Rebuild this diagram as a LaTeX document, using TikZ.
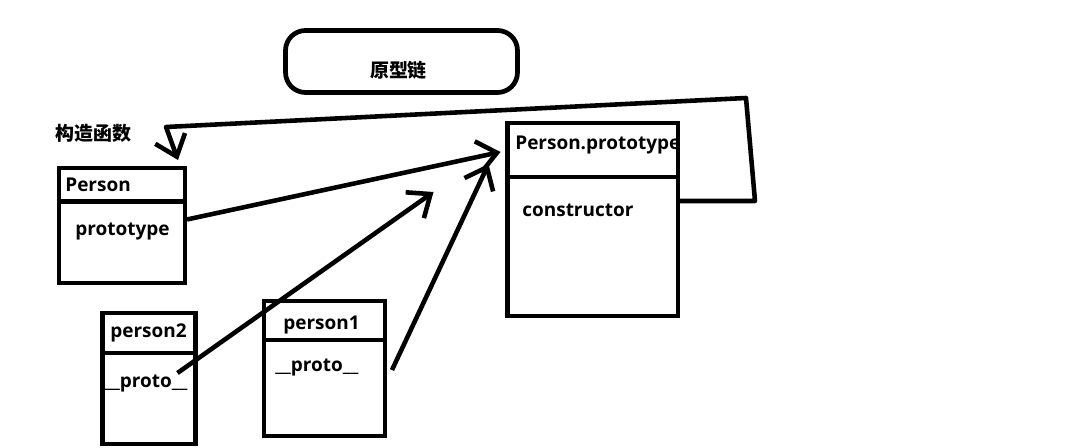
\documentclass[tikz,border=0pt]{standalone}
\usepackage{fontspec}
\setmainfont{Open Sans}
\newfontfamily\cjk{Noto Sans CJK SC}
\usetikzlibrary{positioning,arrows.meta}
\tikzset{
	box/.style={
		rectangle,
		draw=black,
		line width=2.7pt,
		inner sep=0pt,
		outer sep=0pt
	},
	lbl/.style={
		inner sep=0pt,
		anchor=west,
		font=\fontsize{10.8pt}{13pt}\selectfont\bfseries
	},
	arrow/.style={
		draw=black,
		line width=2.6pt,
		line join=round,
		->,
		>={Straight Barb[length=11pt,width=18pt]}
	},
}

\begin{document}
\begin{tikzpicture}[x=0.02cm,y=-0.02cm]
\useasboundingbox (0,0) rectangle (1076,448);
% title
\node[box, rounded corners=0.4cm, minimum width=4.64cm, minimum height=1.24cm] (chain) at (401.5,61.5) {};
\node[lbl, anchor=center] (chaintxt) at (398.5,70) {\cjk 原型链};
\node[lbl] (ctor) at (55,133) {\cjk 构造函数};
% Person
\node[box, minimum width=2.52cm, minimum height=0.67cm] (phead) at (122,184.75) {};
\node[box, minimum width=2.52cm, minimum height=1.63cm, below=0pt of phead] (pbody) {};
\node[lbl, right=0.12cm of phead.west] (pname) {Person};
\node[lbl] (ptype) at (75,232) {prototype};
% Person.prototype
\node[box, minimum width=3.41cm, minimum height=1.08cm] (pphead) at (592.75,150) {};
\node[box, minimum width=3.41cm, minimum height=2.78cm, below=0pt of pphead] (ppbody) {};
\node[lbl] (ppname) at (515,145) {Person.prototype};
\node[lbl] (ppctor) at (522,210) {constructor};
% person2
\node[box, minimum width=1.86cm, minimum height=0.8cm] (p2head) at (149,333) {};
\node[box, minimum width=1.86cm, minimum height=1.82cm, below=0pt of p2head] (p2body) {};
\node[lbl, right=0.15cm of p2head.west] (p2name) {person2};
\node[lbl] (p2proto) at (104,384) {\_\_proto\_\_};
% person1
\node[box, minimum width=2.42cm, minimum height=0.78cm] (p1head) at (324.5,320.5) {};
\node[box, minimum width=2.42cm, minimum height=1.92cm, below=0pt of p1head] (p1body) {};
\node[lbl] (p1name) at (283,325) {person1};
\node[lbl] (p1proto) at (275,368) {\_\_proto\_\_};
% links
\draw[arrow] ([shift={(0,24)}]ppbody.north east) -- (755,201) -- (746,98) -- (166,127) -- ([shift={(-7,-8)}]phead.north east);
\draw[arrow] ([shift={(2,18)}]pbody.north east) -- ([shift={(-7,2)}]pphead.west);
\draw[arrow] ([shift={(-18,20)}]p2body.north east) -- ([shift={(-74,15)}]pphead.south west);
\draw[arrow] ([shift={(7,30)}]p1body.north east) -- ([shift={(-19,14)}]pphead.west);
\end{tikzpicture}
\end{document}
